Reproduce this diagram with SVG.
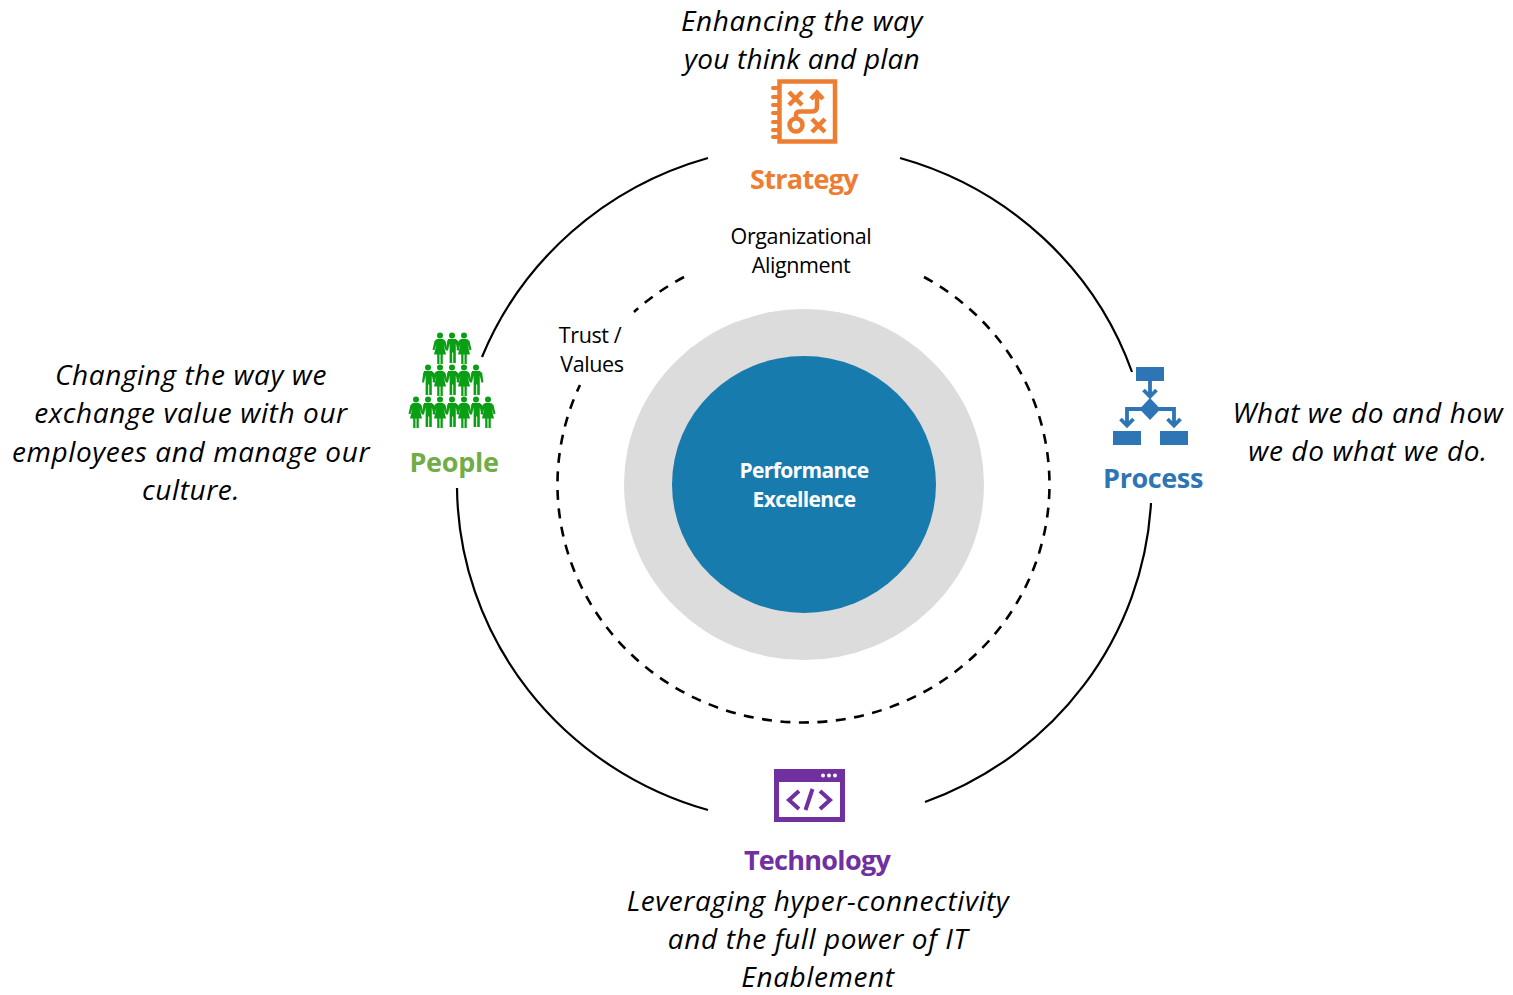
<svg xmlns="http://www.w3.org/2000/svg" width="1513" height="995" viewBox="0 0 1513 995">
<style>
text{font-family:"Open Sans","Noto Sans","Liberation Sans",sans-serif;text-anchor:middle}
.q{font-size:28px;font-style:italic;fill:#000;letter-spacing:.6px}
.t{font-size:27px;font-weight:700;letter-spacing:-.7px}
.s{font-size:21.5px;fill:#000;letter-spacing:-.4px}
.c{font-size:21px;font-weight:700;fill:#fff;letter-spacing:-.65px}
.arc{fill:none;stroke:#000;stroke-width:2.2}
.dash{fill:none;stroke:#000;stroke-width:2.6;stroke-dasharray:10 8.500}
.ol{fill:none;stroke:#ed7d31;stroke-width:4.500}
.bl{fill:none;stroke:#2e75b6;stroke-width:3.800}
.pu{fill:none;stroke:#7030a0;stroke-width:4}
</style>
<defs>
<g id="m" fill="#0a9e14"><circle cx="0" cy="-12.500" r="3"/><path d="M-3.800-9h7.600l2.400 2 1.200 9.500h-2l-1.600-7v5.500v14h-2.600v-10.500h-1v10.500h-2.600v-14v-5.500l-1.600 7h-2l1.200-9.500z"/></g>
<g id="f" fill="#0a9e14"><circle cx="0" cy="-12.500" r="3"/><path d="M-3-9h6l2.500 2 2 9h-2l-2-6 2.500 10.500h-3.200v9.500h-2.300v-9.500h-1v9.500h-2.300v-9.500h-3.200l2.500-10.500-2 6h-2l2-9z"/></g>
</defs>
<g id="connectors">
<path class="arc" d="M708 158A347 339 0 0 0 482 357"/>
<path class="arc" d="M900 158A347 339 0 0 1 1132 372"/>
<path class="arc" d="M1151 503A347 339 0 0 1 925 802"/>
<path class="arc" d="M708 810A347 339 0 0 1 457 488"/>
<path class="dash" d="M684 277A246 238 0 0 0 634 312"/>
<path class="dash" d="M924 277A246 238 0 1 1 580 385"/>
</g>
<g id="core">
<ellipse cx="804" cy="484.500" rx="180" ry="175.500" fill="#dcdcdc"/>
<ellipse cx="804" cy="484.500" rx="132" ry="128.500" fill="#187bad"/>
<text class="c" x="804" y="478">Performance</text>
<text class="c" x="804" y="507">Excellence</text>
</g>
<g id="organizational-alignment">
<text class="s" x="801" y="244">Organizational</text>
<text class="s" x="801" y="273">Alignment</text>
</g>
<g id="trust-values">
<text class="s" x="590" y="343">Trust /</text>
<text class="s" x="592" y="372">Values</text>
</g>
<g id="strategy">
<text class="q" x="802" y="31">Enhancing the way</text>
<text class="q" x="802" y="69" style="letter-spacing:.2px">you think and plan</text>
<rect class="ol" x="779.500" y="81.500" width="55.500" height="60" stroke-width="5"/>
<path d="M773 88h4M773 97h4M773 105h4M773 113h4M773 122h4M773 130h4M773 137h4" stroke="#ed7d31" stroke-width="4" stroke-linecap="round"/>
<path class="ol" d="M789 92l13 13M802 92l-13 13M812 119l13 13M825 119l-13 13"/>
<circle class="ol" cx="796" cy="125" r="6.500"/>
<path class="ol" d="M796 118v-3q0-3.500 4-3.500h12q5 0 5-5v-13M811 99l6-6.500 6 6.500"/>
<text class="t" x="804" y="189" fill="#ed7d31">Strategy</text>
</g>
<g id="process">
<text class="q" x="1368" y="423">What we do and how</text>
<text class="q" x="1368" y="461">we do what we do.</text>
<g fill="#2e75b6">
<rect x="1136" y="367" width="28" height="14"/>
<rect x="1113" y="431" width="28" height="14"/>
<rect x="1160" y="431" width="28" height="14"/>
<path d="M1150 398l10.500 11-10.500 11-10.500-11z"/>
</g>
<path class="bl" d="M1150 381v16M1143.500 390l6.500 6.500 6.500-6.500M1142 409h-15v17M1120.500 419l6.500 6.500 6.500-6.500M1158 409h16v17M1167.500 419l6.500 6.500 6.500-6.500"/>
<text class="t" x="1153" y="488" fill="#2e75b6" style="letter-spacing:-.4px">Process</text>
</g>
<g id="technology">
<path fill="#7030a0" fill-rule="evenodd" d="M774 769h71v53h-71zM779 782v35h61v-35z"/>
<circle cx="823" cy="775.500" r="2" fill="#fff"/><circle cx="829" cy="775.500" r="2" fill="#fff"/><circle cx="835" cy="775.500" r="2" fill="#fff"/>
<path class="pu" d="M799 791l-10 9 10 9M820 791l10 9-10 9M812.500 789l-7 21"/>
<text class="t" x="817" y="870" fill="#7030a0">Technology</text>
<text class="q" x="818" y="910.500">Leveraging hyper-connectivity</text>
<text class="q" x="818" y="948.600">and the full power of IT</text>
<text class="q" x="818" y="986.700">Enablement</text>
</g>
<g id="people">
<text class="q" x="191" y="385">Changing the way we</text>
<text class="q" x="191" y="423">exchange value with our</text>
<text class="q" x="191" y="462">employees and manage our</text>
<text class="q" x="191" y="500">culture.</text>
<use href="#f" x="440" y="348"/><use href="#m" x="452" y="348"/><use href="#f" x="464" y="348"/>
<use href="#m" x="428" y="380"/><use href="#f" x="440" y="380"/><use href="#m" x="452" y="380"/><use href="#f" x="464" y="380"/><use href="#m" x="476" y="380"/>
<use href="#f" x="416" y="412"/><use href="#m" x="428" y="412"/><use href="#f" x="440" y="412"/><use href="#m" x="452" y="412"/><use href="#f" x="464" y="412"/><use href="#m" x="476" y="412"/><use href="#f" x="488" y="412"/>
<text class="t" x="454" y="472" fill="#70ad47" style="letter-spacing:-.3px">People</text>
</g>
</svg>
